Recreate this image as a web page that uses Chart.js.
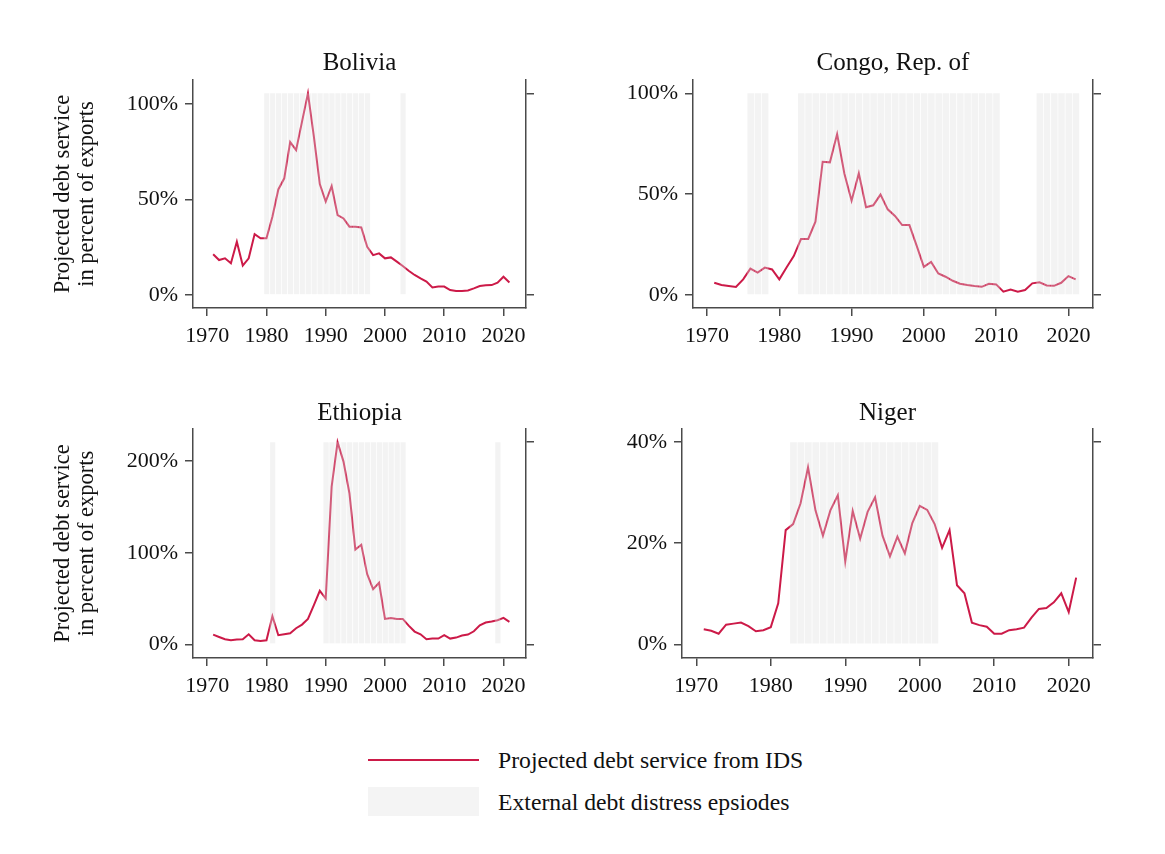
<!DOCTYPE html>
<html>
<head>
<meta charset="utf-8">
<script src="https://cdn.jsdelivr.net/npm/chart.js@4"></script>
<style>
  body { margin: 0; background: #fff; width: 1165px; height: 854px; position: relative; font-family: 'Liberation Serif', serif; color: #111; }
  canvas { position: absolute; }
  .legend-line { position: absolute; left: 368px; top: 759px; width: 111px; height: 2px; background: #cc1a48; }
  .legend-box { position: absolute; left: 368px; top: 787px; width: 111px; height: 29px; background: #f4f4f4; }
  .legend-text { position: absolute; left: 498px; font-size: 23.7px; line-height: 28px; white-space: nowrap; }
</style>
</head>
<body>
<canvas id="bolivia" width="520" height="320" style="left:40px;top:40px"></canvas>
<canvas id="congo" width="530" height="320" style="left:600px;top:40px"></canvas>
<canvas id="ethiopia" width="520" height="320" style="left:40px;top:390px"></canvas>
<canvas id="niger" width="530" height="320" style="left:600px;top:390px"></canvas>

<div class="legend-line"></div>
<div class="legend-text" style="top:746px">Projected debt service from IDS</div>
<div class="legend-box"></div>
<div class="legend-text" style="top:788px">External debt distress epsiodes</div>

<script>
// years 1971..2021
const years = [1971,1972,1973,1974,1975,1976,1977,1978,1979,1980,1981,1982,1983,1984,1985,1986,1987,1988,1989,1990,
  1991,1992,1993,1994,1995,1996,1997,1998,1999,2000,2001,2002,2003,2004,2005,2006,2007,2008,2009,2010,
  2011,2012,2013,2014,2015,2016,2017,2018,2019,2020,2021];

const boliviaValues = [21.3,18.3,19.2,16.6,27.9,15.4,19.2,31.9,29.7,29.7,41,55.3,61.1,80.1,75.9,90.8,105.6,82.9,58.1,48.9,
  57.1,41.9,40.1,35.8,35.8,35.4,25.3,20.9,21.8,19.2,19.7,17.5,15.2,12.7,10.5,8.7,7.0,4.0,4.5,4.4,
  2.6,2.1,2.1,2.4,3.5,4.7,5.1,5.2,6.5,9.6,6.6];
const congoValues = [6.1,5.0,4.5,4.0,7.8,13.1,11.1,13.6,12.7,7.8,13.7,19.3,27.8,27.8,36.4,66.1,65.8,79.8,60.3,46.8,
  60.3,43.5,44.5,49.8,42.5,39.2,34.7,34.7,24.5,14.0,16.4,10.7,9.1,7.1,5.6,5.0,4.5,4.1,5.6,5.3,
  1.7,2.8,1.7,2.5,5.8,6.3,4.8,4.6,6.1,9.4,7.8];
const ethiopiaValues = [10.6,8.0,5.5,4.4,5.1,5.5,10.9,4.4,3.6,4.4,30.7,9.9,10.9,12.0,17.5,21.5,27.7,42.7,58.4,50.0,
  172.3,220.8,199.6,165,103.6,108.8,76.6,60.2,67.2,27.7,28.8,27.7,27.7,20.4,13.9,10.9,5.5,6.2,6.2,9.9,
  6.2,7.3,9.5,10.6,14.2,20.8,23.7,24.8,26.3,28.8,24.5];
const nigerValues = [3.0,2.7,2.1,3.9,4.1,4.3,3.6,2.6,2.8,3.4,8.1,22.6,23.8,27.9,35.0,26.5,21.5,26.5,29.5,16.4,
  26.4,20.9,26.2,29.1,21.5,17.4,21.3,18.0,24.0,27.4,26.6,23.8,19.1,22.6,11.7,10.1,4.3,3.8,3.5,2.1,
  2.1,2.8,3.0,3.3,5.3,7.0,7.2,8.3,10.1,6.4,13.2];

// distress episode years (shaded)
const boliviaDistress = [1980,1981,1982,1983,1984,1985,1986,1987,1988,1989,1990,1991,1992,1993,1994,1995,1996,1997,2003];
const congoDistress = [1976,1977,1978,1983,1984,1985,1986,1987,1988,1989,1990,1991,1992,1993,1994,1995,1996,1997,1998,1999,
  2000,2001,2002,2003,2004,2005,2006,2007,2008,2009,2010,2016,2017,2018,2019,2020,2021];
const ethiopiaDistress = [1981,1990,1991,1992,1993,1994,1995,1996,1997,1998,1999,2000,2001,2002,2003,2019];
const nigerDistress = [1983,1984,1985,1986,1987,1988,1989,1990,1991,1992,1993,1994,1995,1996,1997,1998,1999,2000,2001,2002];

const xTicks = [1970,1980,1990,2000,2010,2020];
const boliviaTicks = [0,50,100];
const congoTicks = [0,50,100];
const ethiopiaTicks = [0,100,200];
const nigerTicks = [0,20,40];

Chart.defaults.font.family = "'Liberation Serif', serif";
Chart.defaults.color = '#111';

const lineColor = '#cc1a48';
const axisColor = '#4a4a4a';

function makePanel(id, opts) {
    const canvas = document.getElementById(id);
    const cx = parseFloat(canvas.style.left), cy = parseFloat(canvas.style.top);
    const w = canvas.width, h = canvas.height;

    const lineData = years.map((yr, i) => ({ x: yr, y: opts.values[i] }));
    const shadeData = opts.distress.map(yr => ({ x: yr, y: opts.shadeTop }));

    const yTitle = opts.yTitle ? {
        display: true,
        text: ['Projected debt service', 'in percent of exports'],
        font: { size: 22.5, lineHeight: 24 / 22.5 },
        padding: { top: 11, bottom: 0 },
        color: '#111'
    } : { display: false };

    new Chart(canvas, {
        type: 'line',
        data: {
            datasets: [
                {
                    type: 'bar',
                    data: shadeData,
                    backgroundColor: 'rgba(222,222,222,0.35)',
                    borderColor: 'rgba(255,255,255,0.1)',
                    borderWidth: { left: 1, right: 0, top: 0, bottom: 0 },
                    borderSkipped: false,
                    barPercentage: 1,
                    categoryPercentage: 1,
                    yAxisID: 'y',
                    order: 0
                },
                {
                    type: 'line',
                    data: lineData,
                    borderColor: lineColor,
                    borderWidth: 2,
                    pointRadius: 0,
                    tension: 0,
                    yAxisID: 'y',
                    order: 1
                }
            ]
        },
        options: {
            responsive: false,
            devicePixelRatio: 1,
            animation: false,
            layout: { padding: 0 },
            plugins: {
                legend: { display: false },
                tooltip: { enabled: false },
                title: {
                    display: true,
                    fullSize: false,
                    text: opts.title,
                    font: { size: 25, weight: 'normal', lineHeight: 1 },
                    color: '#111',
                    padding: { top: opts.titleTop - cy - 12.5, bottom: opts.plotTop - opts.titleTop - 12.5 }
                }
            },
            scales: {
                x: {
                    type: 'linear',
                    min: opts.xMin,
                    max: opts.xMax,
                    offset: false,
                    afterBuildTicks: s => { s.ticks = xTicks.map(v => ({ value: v })); },
                    afterFit: s => { s.height = cy + h - opts.plotBottom; },
                    ticks: { font: { size: 22 }, padding: 7, maxRotation: 0, color: '#111', callback: v => String(v) },
                    grid: { offset: false, drawOnChartArea: false, tickLength: 8, color: axisColor, lineWidth: 1.5 },
                    border: { color: axisColor, width: 1.5 }
                },
                y: {
                    type: 'linear',
                    position: 'left',
                    min: opts.yMin,
                    max: opts.yMax,
                    afterBuildTicks: s => { s.ticks = opts.yTicks.map(v => ({ value: v })); },
                    afterFit: s => { s.width = opts.plotLeft - cx; },
                    ticks: { font: { size: 22 }, padding: 7, color: '#111', callback: v => v + '%' },
                    grid: { drawOnChartArea: false, tickLength: 8, color: axisColor, lineWidth: 1.5 },
                    border: { color: axisColor, width: 1.5 },
                    title: yTitle
                },
                y2: {
                    type: 'linear',
                    position: 'right',
                    min: opts.yMin,
                    max: opts.yMax,
                    afterBuildTicks: s => { s.ticks = [{ value: 0 }, { value: opts.shadeTop }]; },
                    afterFit: s => { s.width = cx + w - opts.plotRight; },
                    ticks: { callback: () => '', padding: 0 },
                    grid: { drawOnChartArea: false, tickLength: 8, color: axisColor, lineWidth: 1.5 },
                    border: { color: axisColor, width: 1.5 }
                }
            }
        }
    });
}

makePanel('bolivia', {
    title: 'Bolivia', values: boliviaValues, distress: boliviaDistress, shadeTop: 105.6,
    yTicks: boliviaTicks, yMin: -6.8, yMax: 112.6, xMin: 1967.6, xMax: 2023.8,
    plotLeft: 193, plotRight: 526, plotTop: 80, plotBottom: 308, titleTop: 63, yTitle: true
});
makePanel('congo', {
    title: 'Congo, Rep. of', values: congoValues, distress: congoDistress, shadeTop: 100,
    yTicks: congoTicks, yMin: -6.4, yMax: 106.6, xMin: 1968.06, xMax: 2023.4,
    plotLeft: 693, plotRight: 1093, plotTop: 80, plotBottom: 308, titleTop: 63, yTitle: false
});
makePanel('ethiopia', {
    title: 'Ethiopia', values: ethiopiaValues, distress: ethiopiaDistress, shadeTop: 220.8,
    yTicks: ethiopiaTicks, yMin: -15, yMax: 235.2, xMin: 1967.6, xMax: 2023.8,
    plotLeft: 193, plotRight: 526, plotTop: 429, plotBottom: 658, titleTop: 413, yTitle: true
});
makePanel('niger', {
    title: 'Niger', values: nigerValues, distress: nigerDistress, shadeTop: 40,
    yTicks: nigerTicks, yMin: -2.7, yMax: 42.6, xMin: 1968.08, xMax: 2023.26,
    plotLeft: 682, plotRight: 1093, plotTop: 429, plotBottom: 658, titleTop: 413, yTitle: false
});
</script>
</body>
</html>
